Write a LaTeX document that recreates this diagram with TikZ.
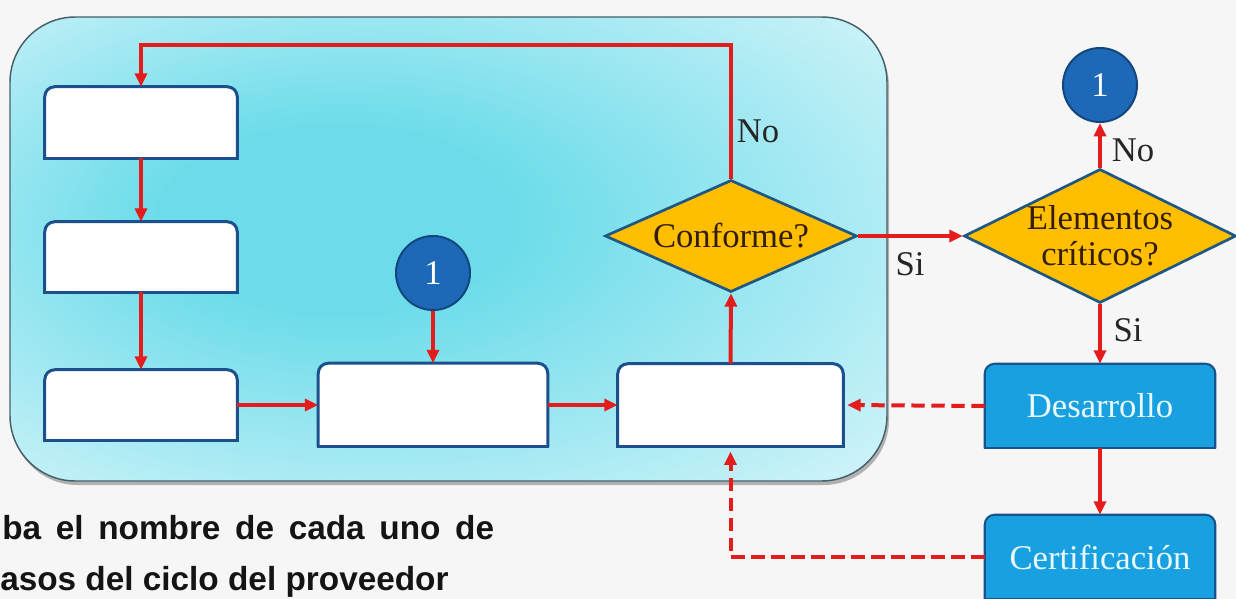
\documentclass[tikz,border=0pt]{standalone}
\usepackage{fontspec}
\setmainfont{Liberation Serif}
\newfontfamily\sansbold{Liberation Sans}
\usetikzlibrary{arrows.meta,shapes.geometric,calc}
\definecolor{bgcol}{RGB}{246,246,246}
\definecolor{glowin}{RGB}{108,220,234}
\definecolor{glowout}{RGB}{228,248,252}
\definecolor{framecol}{RGB}{70,96,108}
\definecolor{redline}{RGB}{228,28,28}
\definecolor{wborder}{RGB}{28,80,140}
\definecolor{bfill}{RGB}{24,160,224}
\definecolor{bborder}{RGB}{24,84,140}
\definecolor{btext}{RGB}{232,250,255}
\definecolor{dfill}{RGB}{255,190,0}
\definecolor{dborder}{RGB}{30,86,132}
\definecolor{dtext}{RGB}{50,30,5}
\definecolor{cfill}{RGB}{30,104,184}
\definecolor{cborder}{RGB}{20,70,126}
\pgfdeclareradialshading{glow}{\pgfpoint{-8bp}{4bp}}{color(0bp)=(glowin); color(10bp)=(glowin); color(42bp)=(glowout); color(50bp)=(glowout)}
\pgfdeclarelayer{bg}
\pgfdeclarelayer{shapes}
\pgfsetlayers{bg,shapes,main}
\newcommand\topbox[2]{%
  \filldraw[#2, rounded corners=7.5pt] (#1.south west) -- (#1.north west) -- (#1.north east) -- (#1.south east);
  \draw[#2, fill=none, line cap=rect] (#1.south west) -- (#1.south east);}
\tikzset{
  wbox/.style={rectangle, inner sep=0pt},
  whiteshape/.style={fill=white, draw=wborder, line width=2.25pt},
  blueshape/.style={fill=bfill, draw=bborder, line width=1.6pt},
  bluetext/.style={text=btext},
  decision/.style={diamond, fill=dfill, draw=dborder, line width=2pt, inner xsep=-40pt, inner ysep=-25pt, text=dtext, align=center, font=\fontsize{26}{27}\selectfont},
  connector/.style={circle, fill=cfill, draw=cborder, line width=1.5pt, minimum size=55.5pt, inner sep=0pt, text=white},
  flow/.style={draw=redline, line width=3pt, -{Triangle[length=10pt,width=9pt]}},
  dflow/.style={flow, dash pattern=on 10pt off 5pt},
  lbl/.style={inner sep=0pt, text=black!85},
  bottomtext/.style={anchor=base west, inner sep=0pt, text=black!92, font={\sansbold\bfseries\fontsize{25}{30}\selectfont}}
}
\begin{document}
\begin{tikzpicture}[x=0.75pt, y=-0.75pt, font=\fontsize{26}{30}\selectfont]
\begin{pgfonlayer}{bg}
  \fill[bgcol] (0,0) rectangle (1236,599);
  \fill[black, opacity=0.28, rounded corners=49pt] (12,21) rectangle (889,485);
  \path[shading=glow, rounded corners=49pt] (10,17) rectangle (887,481);
  \draw[framecol, line width=1.1pt, rounded corners=49pt] (10,17) rectangle (887,481);
\end{pgfonlayer}
\useasboundingbox (0,0) rectangle (1236,599);

% nodes
\node[wbox, minimum width=144pt, minimum height=53.25pt] (A) at (141,122.5) {};
\node[wbox, minimum width=144pt, minimum height=52.5pt] (B) at (141,257) {};
\node[wbox, minimum width=144pt, minimum height=52.5pt] (C) at (141,405) {};
\node[wbox, minimum width=171.75pt, minimum height=62.25pt] (D) at (433,405) {};
\node[wbox, minimum width=168.75pt, minimum height=61.5pt] (E) at (730.5,405) {};
\node[wbox, bluetext, minimum width=172.5pt, minimum height=63pt] (Des) at (1100,406) {Desarrollo};
\node[wbox, bluetext, minimum width=172.5pt, minimum height=63pt] (Cert) at (1100,557) {Certificación};
\node[connector] (c1) at (433,273) {1};
\node[connector] (c2) at (1100,85) {1};
\node[decision, minimum width=189pt, minimum height=84pt] (Conf) at (731,236) {Conforme?};
\node[decision, minimum width=204pt, minimum height=100.5pt] (Elem) at (1100,236) {Elementos\\críticos?};

\begin{pgfonlayer}{shapes}
  \topbox{A}{whiteshape}
  \topbox{B}{whiteshape}
  \topbox{C}{whiteshape}
  \topbox{D}{whiteshape}
  \topbox{E}{whiteshape}
  \topbox{Des}{blueshape}
  \topbox{Cert}{blueshape}
\end{pgfonlayer}

% labels
\node[lbl] (no1) at (758,131) {No};
\node[lbl] (no2) at (1133,150) {No};
\node[lbl] (si1) at (910,264) {Si};
\node[lbl] (si2) at (1128,330) {Si};

% connectors
\coordinate (loopR) at (731,45);
\draw[flow] (Conf.north) -- (loopR) -| (A.north);
\draw[flow] (A.south) -- (B.north);
\draw[flow] (B.south) -- (C.north);
\draw[flow] (C.east) -- (D.west);
\draw[flow] (D.east) -- (E.west);
\draw[flow] (c1.south) -- (D.north);
\draw[flow] (E.north) -- (Conf.south);
\draw[flow] (Conf.east) -- (Elem.west);
\draw[flow] (Elem.north) -- (c2.south);
\draw[flow] (Elem.south) -- (Des.north);
\draw[flow] (Des.south) -- (Cert.north);
\draw[dflow, shorten >=3pt] (Des.west) -- (E.east);
\draw[dflow, shorten >=4pt] (Cert.west) -| (E.south);

% bottom text
\node[bottomtext, font={\sansbold\bfseries\fontsize{25}{30}\selectfont\spaceskip=0.44em\relax}] (t1) at (2,539) {ba el nombre de cada uno de};
\node[bottomtext] (t2) at (0,590) {asos del ciclo del proveedor};
\end{tikzpicture}
\end{document}
